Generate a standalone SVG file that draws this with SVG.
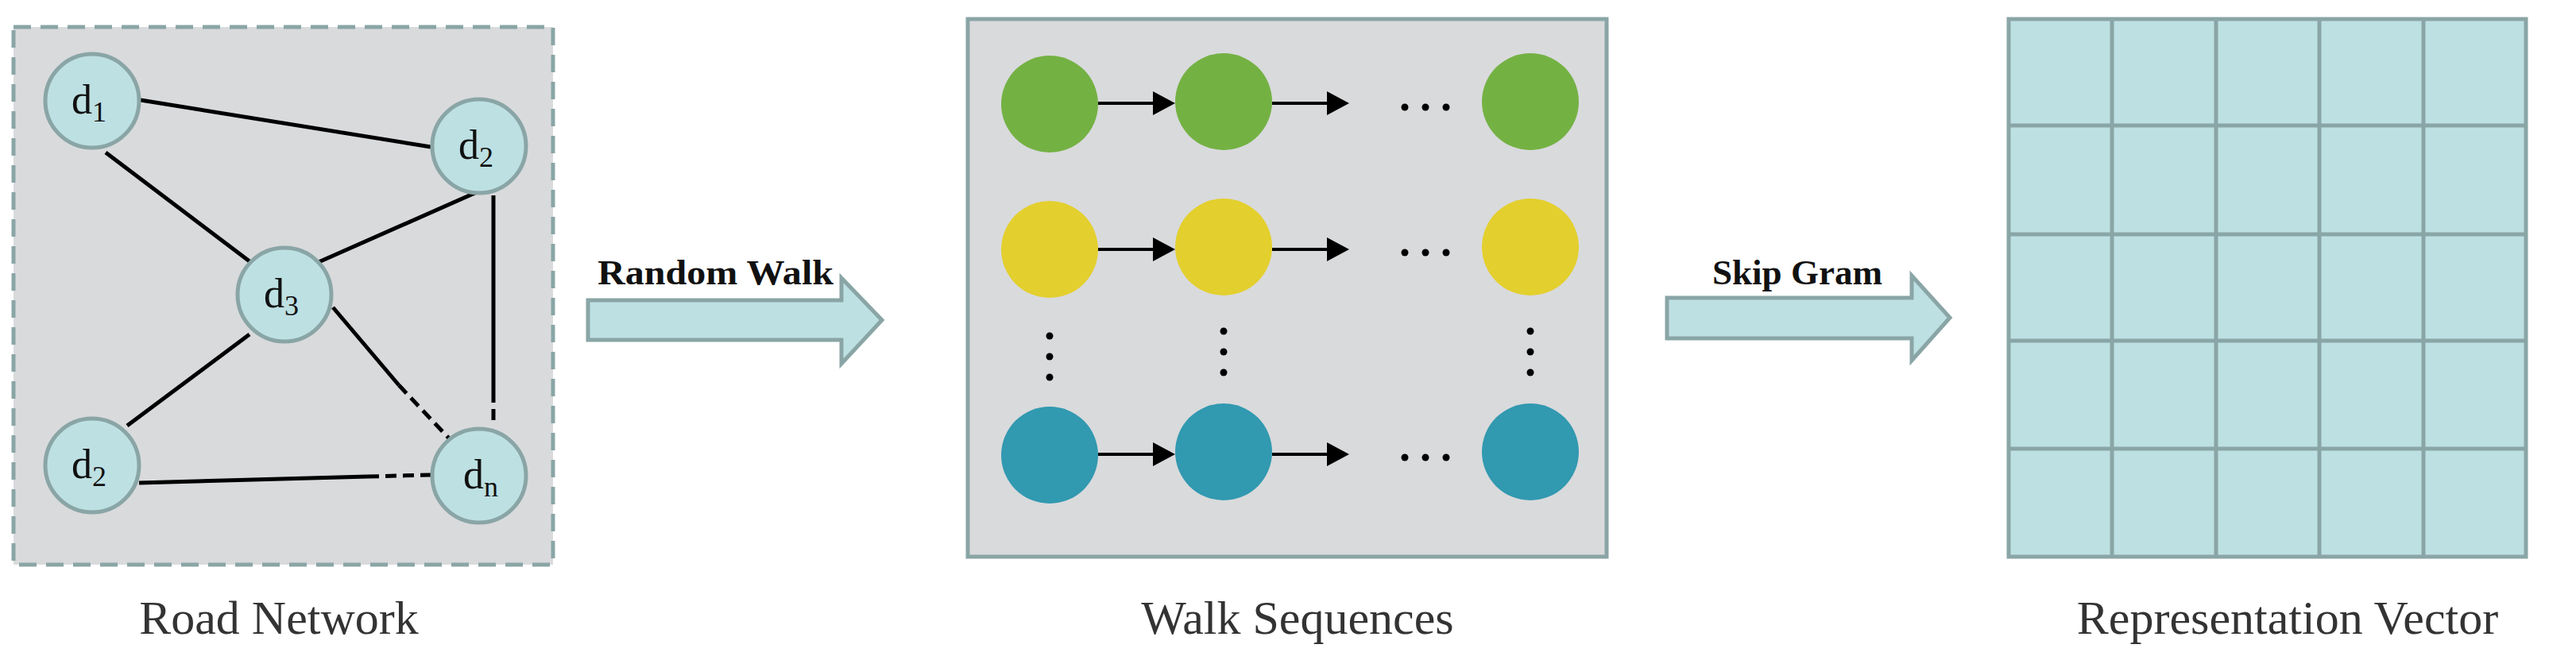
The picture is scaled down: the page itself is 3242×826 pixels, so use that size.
<svg xmlns="http://www.w3.org/2000/svg" width="3242" height="826" viewBox="0 0 3242 826">
<style>
.node{fill:#bde0e3;stroke:#8aa5a6;stroke-width:5}
.lbl{font-family:"Liberation Serif","Times New Roman",Times,serif;font-size:52px;fill:#111;text-anchor:middle}
.sub{font-size:36px}
.cap{font-family:"Liberation Serif","Times New Roman",Times,serif;font-size:60px;fill:#333;text-anchor:middle}
.bold{font-family:"Liberation Serif","Times New Roman",Times,serif;font-weight:bold;font-size:44px;fill:#111}
.edge{stroke:#000;stroke-width:5;fill:none}
.dash{stroke:#000;stroke-width:5;fill:none;stroke-dasharray:14 8}
.big{fill:#bde0e3;stroke:#8aa5a6;stroke-width:5}
.dot{fill:#000}
.g{fill:#74b143}.y{fill:#e3cf2d}.b{fill:#3199b0}
.wl{stroke:#000;stroke-width:4}
</style>
<rect width="3242" height="826" fill="#fff"/>
<g id="road-network">
<rect x="17" y="34" width="679" height="677" fill="#d9dadc" stroke="#8aa5a6" stroke-width="5" stroke-dasharray="22 12"/>
</g>
<g id="walk-sequences">
<rect x="1218" y="24" width="804" height="677" fill="#d9dadc" stroke="#8aa5a6" stroke-width="5"/>
<circle class="g" cx="1321" cy="131" r="61"/><circle class="g" cx="1540" cy="128" r="61"/><circle class="g" cx="1926" cy="128" r="61"/>
<circle class="y" cx="1321" cy="314" r="61"/><circle class="y" cx="1540" cy="311" r="61"/><circle class="y" cx="1926" cy="311" r="61"/>
<circle class="b" cx="1321" cy="573" r="61"/><circle class="b" cx="1540" cy="569" r="61"/><circle class="b" cx="1926" cy="569" r="61"/>
<g class="dot">
<circle cx="1768" cy="135" r="4.5"/><circle cx="1794" cy="135" r="4.5"/><circle cx="1820" cy="135" r="4.5"/>
<circle cx="1768" cy="318" r="4.5"/><circle cx="1794" cy="318" r="4.5"/><circle cx="1820" cy="318" r="4.5"/>
<circle cx="1768" cy="576" r="4.5"/><circle cx="1794" cy="576" r="4.5"/><circle cx="1820" cy="576" r="4.5"/>
<circle cx="1321" cy="423" r="4.5"/><circle cx="1321" cy="449" r="4.5"/><circle cx="1321" cy="475" r="4.5"/>
<circle cx="1540" cy="417" r="4.5"/><circle cx="1540" cy="443" r="4.5"/><circle cx="1540" cy="469" r="4.5"/>
<circle cx="1926" cy="417" r="4.5"/><circle cx="1926" cy="443" r="4.5"/><circle cx="1926" cy="469" r="4.5"/>
</g>
</g>
<g id="connectors">
<line class="edge" x1="177" y1="126" x2="542" y2="185"/>
<line class="edge" x1="133" y1="192" x2="314" y2="329"/>
<line class="edge" x1="401" y1="330" x2="600" y2="242"/>
<line class="edge" x1="621" y1="246" x2="621" y2="493"/>
<line class="dash" x1="621" y1="493" x2="621" y2="536"/>
<line class="edge" x1="419" y1="387" x2="502" y2="485"/>
<line class="dash" x1="502" y1="485" x2="567" y2="554"/>
<line class="edge" x1="314" y1="421" x2="160" y2="536"/>
<line class="edge" x1="175" y1="608" x2="463" y2="600"/>
<line class="dash" x1="463" y1="600" x2="542" y2="598"/>
<line class="wl" x1="1382" y1="130" x2="1451" y2="130"/>
<polygon points="1451,115 1479,130 1451,145" fill="#000"/>
<line class="wl" x1="1601" y1="130" x2="1670" y2="130"/>
<polygon points="1670,115 1698,130 1670,145" fill="#000"/>
<line class="wl" x1="1382" y1="314" x2="1451" y2="314"/>
<polygon points="1451,299 1479,314 1451,329" fill="#000"/>
<line class="wl" x1="1601" y1="314" x2="1670" y2="314"/>
<polygon points="1670,299 1698,314 1670,329" fill="#000"/>
<line class="wl" x1="1382" y1="572" x2="1451" y2="572"/>
<polygon points="1451,557 1479,572 1451,587" fill="#000"/>
<line class="wl" x1="1601" y1="572" x2="1670" y2="572"/>
<polygon points="1670,557 1698,572 1670,587" fill="#000"/>
</g>
<g id="node-d1"><circle class="node" cx="116" cy="127" r="59"/><text class="lbl" x="112" y="143">d<tspan class="sub" dy="10">1</tspan></text></g>
<g id="node-d2-top"><circle class="node" cx="603" cy="184" r="59"/><text class="lbl" x="599" y="200">d<tspan class="sub" dy="10">2</tspan></text></g>
<g id="node-d3"><circle class="node" cx="358" cy="371" r="59"/><text class="lbl" x="354" y="387">d<tspan class="sub" dy="10">3</tspan></text></g>
<g id="node-d2-bottom"><circle class="node" cx="116" cy="586" r="59"/><text class="lbl" x="112" y="602">d<tspan class="sub" dy="10">2</tspan></text></g>
<g id="node-dn"><circle class="node" cx="603" cy="599" r="59"/><text class="lbl" x="605" y="615">d<tspan class="sub" dy="10">n</tspan></text></g>
<text class="cap" x="351" y="798">Road Network</text>
<g id="arrow-random-walk">
<polygon class="big" points="740,378 1059,378 1059,350 1110,403 1059,458 1059,428 740,428"/>
<text class="bold" x="752" y="358" textLength="297" lengthAdjust="spacingAndGlyphs">Random Walk</text>
</g>
<text class="cap" x="1633" y="798">Walk Sequences</text>
<g id="arrow-skip-gram">
<polygon class="big" points="2098,375 2406,375 2406,347 2454,400 2406,454 2406,426 2098,426"/>
<text class="bold" x="2155" y="358" textLength="214" lengthAdjust="spacingAndGlyphs">Skip Gram</text>
</g>
<g id="representation-vector">
<rect x="2528" y="24" width="651" height="677" fill="#bde0e3" stroke="#8aa5a6" stroke-width="5"/>
<g stroke="#8aa5a6" stroke-width="5">
<line x1="2658" y1="24" x2="2658" y2="701"/><line x1="2789" y1="24" x2="2789" y2="701"/><line x1="2919" y1="24" x2="2919" y2="701"/><line x1="3050" y1="24" x2="3050" y2="701"/>
<line x1="2528" y1="158" x2="3179" y2="158"/><line x1="2528" y1="295" x2="3179" y2="295"/><line x1="2528" y1="429" x2="3179" y2="429"/><line x1="2528" y1="565" x2="3179" y2="565"/>
</g>
</g>
<text class="cap" x="2879" y="798">Representation Vector</text>
</svg>
